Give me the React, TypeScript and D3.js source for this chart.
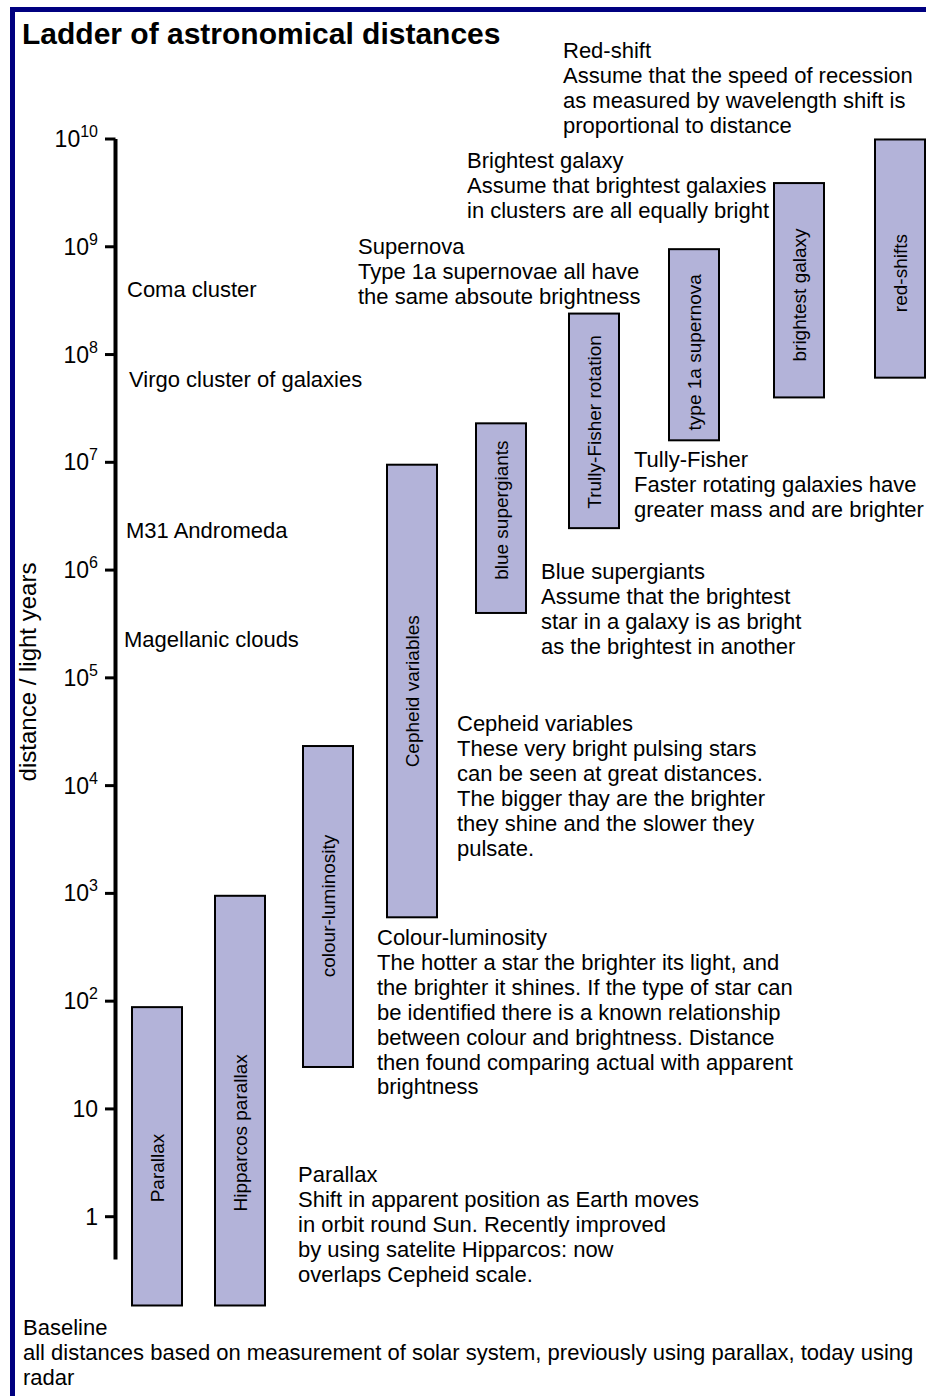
import React from "react";
import * as d3 from "d3";

// ---- data ----
const methods = [
  "Parallax",
  "Hipparcos parallax",
  "colour-luminosity",
  "Cepheid variables",
  "blue supergiants",
  "Trully-Fisher rotation",
  "type 1a supernova",
  "brightest galaxy",
  "red-shifts",
];
const rangeLow = [0.15, 0.15, 24.5, 600, 4.0e5, 2.45e6, 1.6e7, 4.0e7, 6.1e7];
const rangeHigh = [88, 950, 23300, 9.5e6, 2.3e7, 2.4e8, 9.5e8, 3.9e9, 9.9e9];
const labelAt = [2.83, 6.0, 764, 7.5e4, 3.6e6, 2.37e7, 1.05e8, 3.57e8, 5.7e8];

const tickExponents = [0, 1, 2, 3, 4, 5, 6, 7, 8, 9, 10];

const landmarks = ["Coma cluster", "Virgo cluster of galaxies", "M31 Andromeda", "Magellanic clouds"];
const landmarkDistance = [3.42e8, 5.0e7, 2.0e6, 1.93e5];

const notes: string[][] = [
  ["Red-shift", "Assume that the speed of recession", "as measured by wavelength shift is", "proportional to distance"],
  ["Brightest galaxy", "Assume that brightest galaxies", "in clusters are all equally bright"],
  ["Supernova", "Type 1a supernovae all have", "the same absoute brightness"],
  ["Tully-Fisher", "Faster rotating galaxies have", "greater mass and are brighter"],
  ["Blue supergiants", "Assume that the brightest", "star in a galaxy is as bright", "as the brightest in another"],
  ["Cepheid variables", "These very bright pulsing stars", "can be seen at great distances.", "The bigger thay are the brighter", "they shine and the slower they", "pulsate."],
  ["Colour-luminosity", "The hotter a star the brighter its light, and", "the brighter it shines. If the type of star can", "be identified there is a known relationship", "between colour and brightness. Distance", "then found comparing actual with apparent", "brightness"],
  ["Parallax", "Shift in apparent position as Earth moves", "in orbit round Sun. Recently improved", "by using satelite Hipparcos: now", "overlaps Cepheid scale."],
  ["Baseline", "all distances based on measurement of solar system, previously using parallax, today using", "radar"],
];

// ---- layout ----
const W = 926;
const H = 1396;
const FONT = "'Liberation Sans', Arial, Helvetica, sans-serif";
const BAR_LEFT = [132, 215, 303, 387, 476, 569, 669, 774, 875];
const BAR_W = 50;
const NOTE_POS = [
  [563, 58],
  [467, 168],
  [358, 254],
  [634, 467],
  [541, 579],
  [457, 731],
  [377, 945],
  [298, 1182],
  [23, 1335],
];
const LANDMARK_X = [127, 129, 126, 124];
const LINE_H = 24.9;
const BODY = 22;

export default function App() {
  const y = d3.scaleLog().domain([1, 1e10]).range([1216.7, 139]);
  const axisX = 115.5;

  return (
    <svg
      width={W}
      height={H}
      style={{ position: "absolute", left: 0, top: 0, display: "block", background: "#fff" }}
      fontFamily={FONT}
    >
      <rect x={0} y={0} width={W} height={H} fill="#fff" />
      {/* frame */}
      <rect x={10} y={7} width={W - 10} height={5} fill="#000080" />
      <rect x={10} y={7} width={5} height={H - 7} fill="#000080" />

      {/* title */}
      <text x={22} y={44} fontSize={30} fontWeight="bold" fill="#000">
        Ladder of astronomical distances
      </text>

      {/* axis */}
      <line x1={axisX} x2={axisX} y1={y(1e10)} y2={y(0.4)} stroke="#000" strokeWidth={4} />
      {tickExponents.map((e) => {
        const v = Math.pow(10, e);
        const ty = y(v);
        return (
          <g key={e}>
            <line x1={105} x2={axisX} y1={ty} y2={ty} stroke="#000" strokeWidth={3} />
            <text x={98} y={ty + 8} fontSize={23} textAnchor="end" fill="#000">
              {e === 0 ? "1" : e === 1 ? "10" : (
                <>
                  <tspan>10</tspan>
                  <tspan fontSize={16} dy={-10}>{e}</tspan>
                </>
              )}
            </text>
          </g>
        );
      })}
      <text
        transform={`translate(36, 672) rotate(-90)`}
        fontSize={24}
        textAnchor="middle"
        fill="#000"
      >
        distance / light years
      </text>

      {/* landmarks */}
      {landmarks.map((name, i) => (
        <text key={name} x={LANDMARK_X[i]} y={y(landmarkDistance[i])} fontSize={BODY} fill="#000">
          {name}
        </text>
      ))}

      {/* bars */}
      {methods.map((m, i) => {
        const top = y(rangeHigh[i]);
        const bot = y(rangeLow[i]);
        const cx = BAR_LEFT[i] + BAR_W / 2;
        const ly = y(labelAt[i]);
        return (
          <g key={m}>
            <rect
              x={BAR_LEFT[i]}
              y={top}
              width={BAR_W}
              height={bot - top}
              fill="#b3b3d9"
              stroke="#000"
              strokeWidth={2}
            />
            <text
              transform={`translate(${cx + 6.5}, ${ly}) rotate(-90)`}
              fontSize={19}
              textAnchor="middle"
              fill="#000"
            >
              {m}
            </text>
          </g>
        );
      })}

      {/* notes */}
      {notes.map((lines, i) => (
        <text key={i} x={NOTE_POS[i][0]} y={NOTE_POS[i][1]} fontSize={BODY} fill="#000">
          {lines.map((l, j) => (
            <tspan key={j} x={NOTE_POS[i][0]} y={NOTE_POS[i][1] + j * LINE_H}>
              {l}
            </tspan>
          ))}
        </text>
      ))}
    </svg>
  );
}
